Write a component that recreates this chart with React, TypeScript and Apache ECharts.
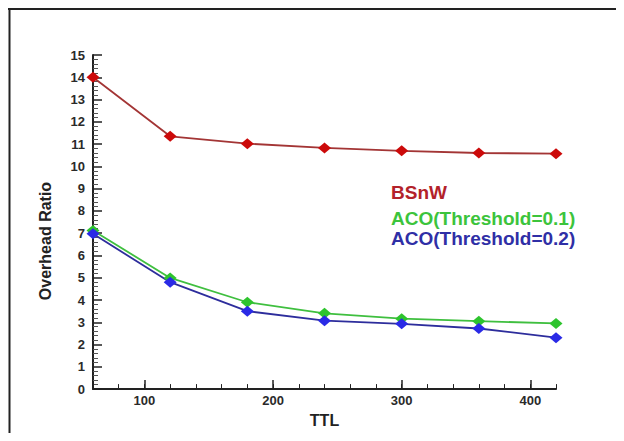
import React, { useEffect, useRef } from "react";
import * as echarts from "echarts";

const ttl = [60, 120, 180, 240, 300, 360, 420];
const bsnw = [14.0, 11.35, 11.02, 10.83, 10.7, 10.6, 10.57];
const aco01 = [7.12, 4.99, 3.9, 3.4, 3.16, 3.05, 2.95];
const aco02 = [6.97, 4.8, 3.5, 3.07, 2.93, 2.72, 2.31];
const seriesNames = ["BSnW", "ACO(Threshold=0.1)", "ACO(Threshold=0.2)"];
const xMajorTicks = [100, 200, 300, 400];

const pairs = (ys: number[]) => ttl.map((x, i) => [x, ys[i]]);

export default function App() {
  const ref = useRef<HTMLDivElement>(null);
  useEffect(() => {
    if (!ref.current) return;
    const chart = echarts.init(ref.current, null, { renderer: "svg" });
    const axisColor = "#222";
    const labelFont = {
      fontFamily: "Liberation Sans, Arial, sans-serif",
      fontSize: 13,
      fontWeight: "bold" as const,
      color: "#2a2a2a",
    };
    const legendFont = { fontSize: 19, fontWeight: "bold", fontFamily: "Liberation Sans, Arial, sans-serif" };
    chart.setOption({
      animation: false,
      backgroundColor: "#fff",
      grid: { left: 85, right: 68, top: 47, bottom: 40, containLabel: false },
      legend: [
        {
          data: [{ name: seriesNames[0], textStyle: { color: "#b3222a" } }],
          icon: "none",
          itemWidth: 0,
          padding: 0,
          left: 378,
          top: 175,
          textStyle: legendFont,
          selectedMode: false,
        },
        {
          data: [
            { name: seriesNames[1], textStyle: { color: "#3cc43c" } },
            { name: seriesNames[2], textStyle: { color: "#2f2fa6" } },
          ],
          icon: "none",
          itemWidth: 0,
          padding: 0,
          orient: "vertical",
          itemGap: 1,
          left: 378,
          top: 201,
          textStyle: legendFont,
          selectedMode: false,
        },
      ],
      xAxis: [
        {
          type: "value",
          min: 60,
          max: 420,
          interval: 20,
          name: "TTL",
          nameLocation: "middle",
          nameGap: 17,
          nameTextStyle: {
            fontFamily: "Liberation Sans, Arial, sans-serif",
            fontSize: 16,
            fontWeight: "bold",
            color: "#222",
            verticalAlign: "top",
          },
          splitLine: { show: false },
          axisLine: { show: true, onZero: false, lineStyle: { color: axisColor, width: 2 } },
          axisTick: { show: true, inside: true, length: 5, lineStyle: { color: axisColor, width: 1 } },
          axisLabel: {
            ...labelFont,
            margin: 5,
            formatter: (v: number) => (v % 100 === 0 ? String(v) : ""),
          },
        },
        {
          type: "value",
          min: 60,
          max: 420,
          position: "bottom",
          splitLine: { show: false },
          axisLine: { show: false },
          axisTick: {
            show: true,
            inside: true,
            length: 9,
            customValues: xMajorTicks,
            lineStyle: { color: axisColor, width: 1.5 },
          },
          axisLabel: { show: false },
        },
      ],
      yAxis: {
        type: "value",
        min: 0,
        max: 15,
        interval: 1,
        splitLine: { show: false },
        axisLine: { show: true, onZero: false, lineStyle: { color: axisColor, width: 2 } },
        axisTick: { show: true, inside: true, length: 9, lineStyle: { color: axisColor, width: 1.5 } },
        minorTick: { show: true, splitNumber: 5, length: 5, lineStyle: { color: "#555", width: 1 } },
        axisLabel: { ...labelFont, margin: 8 },
      },
      graphic: [
        { type: "line", shape: { x1: 0, y1: 1, x2: 616, y2: 1 }, style: { stroke: "#222", lineWidth: 2 } },
        { type: "line", shape: { x1: 1.5, y1: 0, x2: 1.5, y2: 425 }, style: { stroke: "#222", lineWidth: 2 } },
        {
          type: "text",
          x: 37,
          y: 233,
          rotation: Math.PI / 2,
          style: {
            text: "Overhead Ratio",
            fontFamily: "Liberation Sans, Arial, sans-serif",
            fontSize: 16,
            fontWeight: "bold",
            fill: "#222",
            textAlign: "center",
            textVerticalAlign: "middle",
          },
        },
      ],
      series: [
        {
          name: seriesNames[0],
          type: "line",
          data: pairs(bsnw),
          symbol: "diamond",
          symbolSize: [13, 11],
          itemStyle: { color: "#cc0a0a" },
          lineStyle: { color: "#a33535", width: 1.8 },
        },
        {
          name: seriesNames[1],
          type: "line",
          data: pairs(aco01),
          symbol: "diamond",
          symbolSize: [13, 11],
          itemStyle: { color: "#2ec42e" },
          lineStyle: { color: "#3fbf3f", width: 1.8 },
        },
        {
          name: seriesNames[2],
          type: "line",
          data: pairs(aco02),
          symbol: "diamond",
          symbolSize: [13, 11],
          itemStyle: { color: "#2a2ae6" },
          lineStyle: { color: "#2d2d9c", width: 1.8 },
        },
      ],
    });
    return () => chart.dispose();
  }, []);
  return <div ref={ref} style={{ width: 616, height: 425 }} />;
}
